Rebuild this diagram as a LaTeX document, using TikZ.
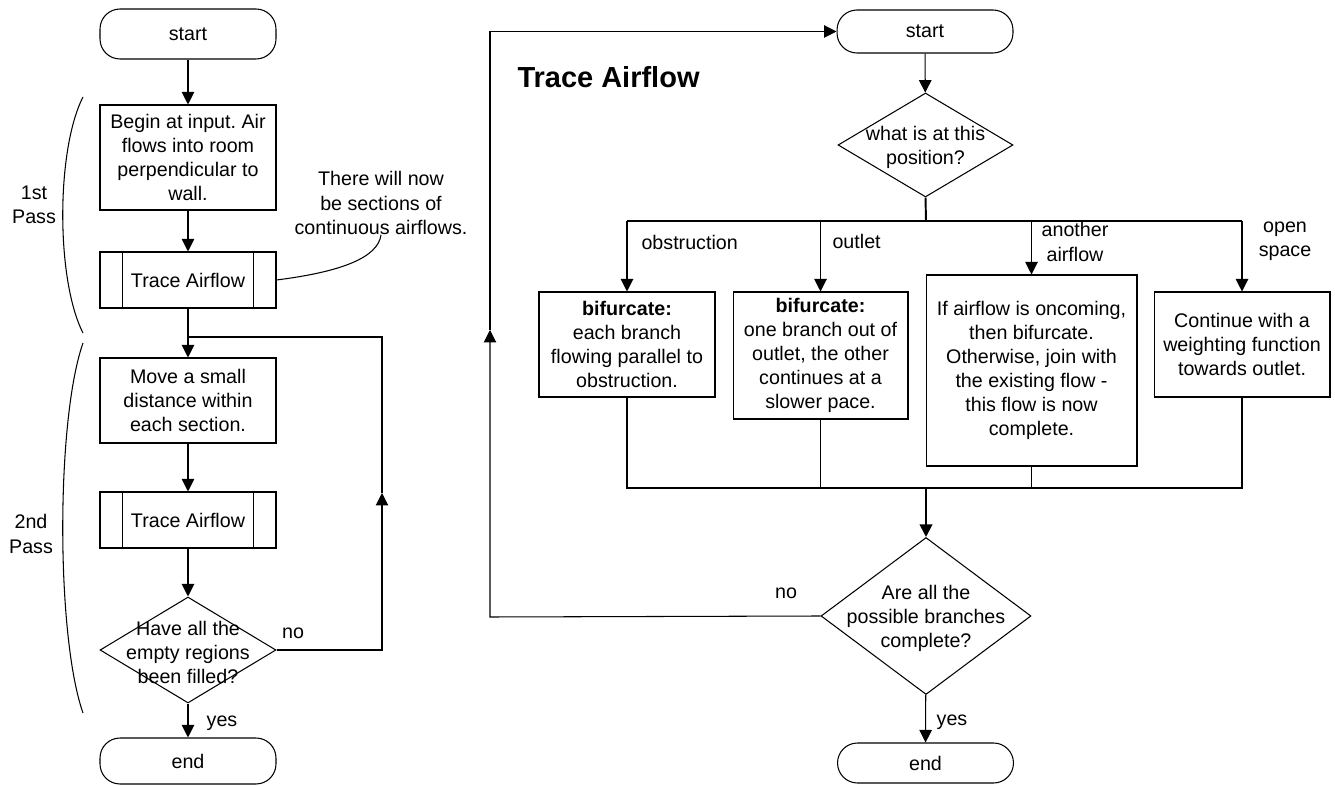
\documentclass[tikz,border=0pt]{standalone}
\usepackage{fontspec}
\setmainfont{Liberation Sans}
\frenchspacing
\usetikzlibrary{arrows.meta,shapes.geometric}

\tikzset{
  term/.style={draw, rectangle, rounded corners=0.4cm, minimum width=3.52cm},
  proc/.style={draw, rectangle, minimum width=3.52cm},
  subproc/.style={proc, minimum height=1.12cm,
    path picture={
      \draw ([xshift=0.45cm]path picture bounding box.north west) -- ([xshift=0.45cm]path picture bounding box.south west);
      \draw ([xshift=-0.45cm]path picture bounding box.north east) -- ([xshift=-0.45cm]path picture bounding box.south east);}},
  decision/.style={draw, diamond, inner sep=0pt},
  flow/.style={-{Triangle[length=0.25cm,width=0.25cm]}},
  lbl/.style={inner sep=0pt},
}

\begin{document}
\begin{tikzpicture}[x=0.02cm, y=-0.02cm, line width=0.6pt,
  font=\fontsize{11.2}{13.7}\selectfont, align=center]

  \useasboundingbox (0,0) rectangle (1335,786);

  % main loop, left
  \node[term, minimum height=1.0cm] (start1) at (188,34) {start};
  \node[proc, minimum height=2.1cm] (input) at (188,157.5) {Begin at input. Air\\flows into room\\perpendicular to\\wall.};
  \node[subproc] (trace1) at (188,280) {Trace Airflow};
  \node[proc, minimum height=1.7cm] (move) at (188,400.5) {Move a small\\distance within\\each section.};
  \node[subproc] (trace2) at (188,520) {Trace Airflow};
  \node[decision, minimum width=3.52cm, minimum height=2.12cm,
        label={[align=center, yshift=-1.5pt]center:Have all the\\empty regions\\been filled?}] (filled) at (188,650) {};
  \node[term, minimum height=0.92cm] (end1) at (188,761) {end};

  \draw[flow] (start1) -- (input);
  \draw[flow] (input) -- (trace1);
  \draw[flow] (trace1) -- (move);
  \draw[flow] (move) -- (trace2);
  \draw[flow] (trace2) -- (filled);
  \draw[flow] (filled) -- (end1);
  \node[lbl] (yes1) at (222,723) {yes};

  \coordinate (loopA) at (382,650);
  \coordinate (loopB) at (382,493);
  \coordinate (loopC) at (382,337);
  \coordinate (join1) at (188,337);
  \draw[flow] (filled.east) -- (loopA) -- (loopB);
  \draw (loopB) -- (loopC) -- (join1);
  \node[lbl] (no1) at (293,633) {no};

  \node[lbl] (note) at (381,203) {There will now\\be sections of\\continuous airflows.};
  \draw (trace1.east) .. controls (340,272) and (378,258) .. (note.south);

  % passes
  \draw (83,97) .. controls (56,150) and (56,280) .. (83,333);
  \draw (83,343) .. controls (56,420) and (56,636) .. (83,713);
  \node[lbl] (pass1) at (34,205) {1st\\Pass};
  \node[lbl] (pass2) at (31,534) {2nd\\Pass};

  % trace airflow, right
  \node[lbl, font=\fontsize{16.5}{20}\selectfont\bfseries, anchor=base west] (title) at (517,88) {Trace Airflow};
  \node[term, minimum height=0.86cm] (start2) at (925,31.5) {start};
  \node[decision, minimum width=3.5cm, minimum height=2.08cm,
        label={[align=center, yshift=-1.5pt]center:what is at this\\position?}] (what) at (925.5,145) {};

  \node[proc, minimum height=2.1cm] (obst) at (627,344.5) {\textbf{bifurcate:}\\each branch\\flowing parallel to\\obstruction.};
  \node[proc, minimum width=3.5cm, minimum height=2.54cm] (outl) at (820.5,355.5) {\textbf{bifurcate:}\\one branch out of\\outlet, the other\\continues at a\\slower pace.};
  \node[proc, minimum width=4.22cm, minimum height=3.82cm] (other) at (1031.5,370.5) {If airflow is oncoming,\\then bifurcate.\\Otherwise, join with\\the existing flow -\\this flow is now\\complete.};
  \node[proc, minimum height=2.1cm] (open) at (1242,344.5) {Continue with a\\weighting function\\towards outlet.};

  \node[decision, minimum width=4.2cm, minimum height=3.14cm,
        label={[align=center, yshift=-1.5pt]center:Are all the\\possible branches\\complete?}] (done) at (926,616) {};
  \node[term, minimum height=0.8cm] (end2) at (925.5,763) {end};

  \draw[flow] (start2) -- (what);

  \coordinate (busT) at (926,221);
  \coordinate (busTL) at (627,221);
  \coordinate (busTR) at (1242,221);
  \draw[line width=1.1pt] (what.south) -- (busT);
  \draw (busTL) -- (busTR);
  \draw[flow] (busTL) -- (obst);
  \draw[flow] (busTL -| outl) -- (outl);
  \draw[flow] (busTL -| other) -- (other);
  \draw[flow] (busTR) -- (open);

  \node[lbl, anchor=west] (lobst) at (641,242) {obstruction};
  \node[lbl, anchor=west] (loutl) at (832,241) {outlet};
  \node[lbl] (lother) at (1075,242) {another\\airflow};
  \node[lbl] (lopen) at (1285,241) {open\\space};

  \coordinate (busB) at (926,488);
  \coordinate (busBL) at (627,488);
  \coordinate (busBR) at (1242,488);
  \draw (obst) -- (busBL) -- (busBR) -- (open);
  \draw (outl) -- (busBL -| outl);
  \draw (other) -- (busBL -| other);
  \draw[flow, line width=1.1pt] (busB) -- (done);
  \draw[flow] (done) -- (end2);
  \node[lbl] (yes2) at (952,722) {yes};

  \coordinate (loopD) at (490,617);
  \coordinate (loopE) at (490,330);
  \coordinate (loopF) at (490,31.5);
  \draw[flow] (done.west) -- (loopD) -- (loopE);
  \draw[flow] (loopE) -- (loopF) -- (start2.west);
  \node[lbl] (no2) at (786,593) {no};

\end{tikzpicture}
\end{document}
